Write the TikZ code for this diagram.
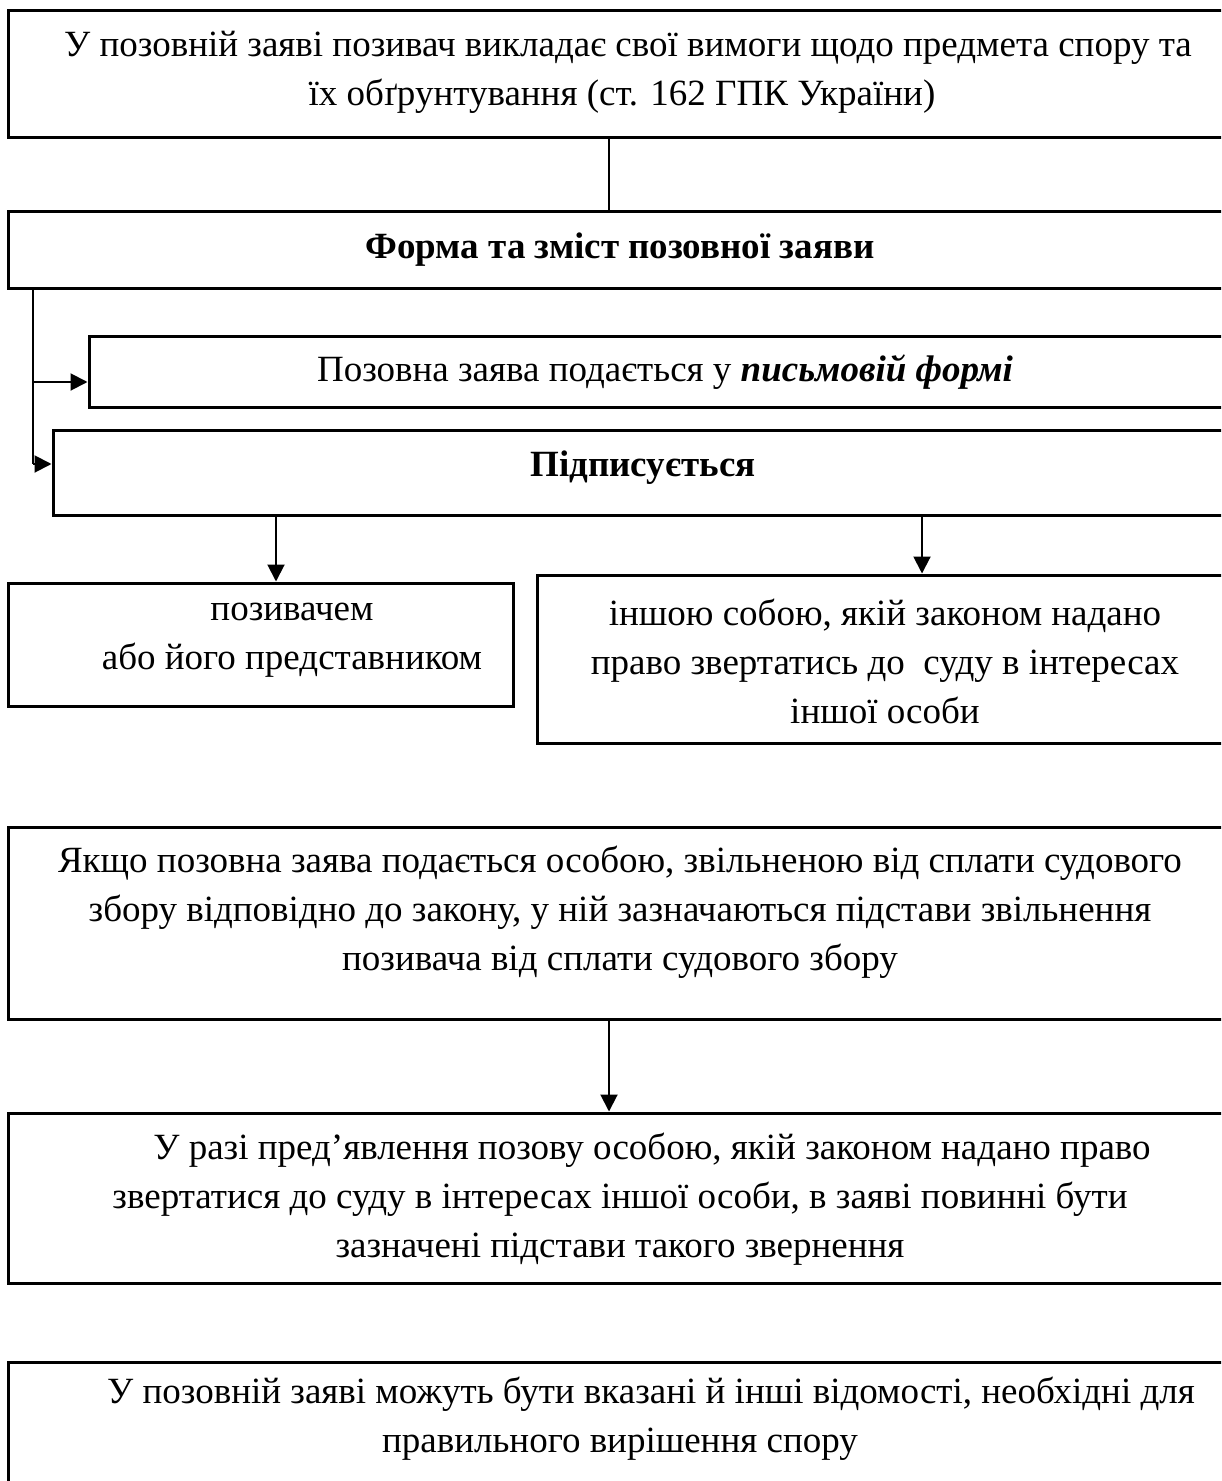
\documentclass[tikz,border=0pt]{standalone}
\usepackage{fontspec}
\setmainfont{Liberation Serif}
\usetikzlibrary{arrows.meta}
\tikzset{
  box/.style={draw, line width=1.5pt, rectangle, inner sep=0pt},
  txt/.style={align=center, inner sep=0pt, font=\fontsize{18.5}{24.5}\selectfont},
  conn/.style={line width=0.9pt},
  arr/.style={line width=1pt, -{Triangle[length=8.5pt,width=8.5pt]}}
}
\begin{document}
\begin{tikzpicture}[x=0.5pt,y=-0.5pt]
\useasboundingbox (0,0) rectangle (1221,1481);
\fill[white] (0,0) rectangle (1221,1481);
\clip (0,0) rectangle (1221,1481);

% boxes
\node[box, minimum width=612.5pt, minimum height=63.5pt] (b1) at (620.5,74.5) {};
\node[box, minimum width=612.5pt, minimum height=38.5pt] (b2) at (620.5,250.5) {};
\node[box, minimum width=576pt, minimum height=35pt] (b3) at (665,372) {};
\node[box, minimum width=590pt, minimum height=42.5pt] (b4) at (643,472.5) {};
\node[box, minimum width=252.5pt, minimum height=61.5pt] (bl) at (260.5,644.5) {};
\node[box, minimum width=348pt, minimum height=84pt] (br) at (885,659) {};
\node[box, minimum width=612.5pt, minimum height=96pt] (b5) at (620.5,923) {};
\node[box, minimum width=612.5pt, minimum height=85pt] (b6) at (620.5,1198) {};
\node[box, minimum width=612.5pt, minimum height=69pt] (b7) at (620.5,1431) {};

% texts
\node[txt] (t1) at (622,72) {\hspace*{6pt}У позовній заяві позивач викладає свої вимоги щодо предмета спору та\\їх обґрунтування (ст. 162 ГПК України)};
\node[txt] (t2) at (620,250) {\textbf{Форма та зміст позовної заяви}};
\node[txt] (t3) at (665,372) {Позовна заява подається у \textbf{\textit{письмовій формі}}};
\node[txt] (t4) at (643,468) {\textbf{Підписується}};
\node[txt] (t5) at (292,640) {позивачем\\або його представником};
\node[txt] (t6) at (885,661) {іншою собою, якій законом надано\\право звертатись до \ суду в інтересах\\іншої особи};
\node[txt] (t7) at (620,912) {Якщо позовна заява подається особою, звільненою від сплати судового\\збору відповідно до закону, у ній зазначаються підстави звільнення\\позивача від сплати судового збору};
\node[txt] (t8) at (620,1199) {\hspace*{32pt}У разі пред’явлення позову особою, якій законом надано право\\звертатися до суду в інтересах іншої особи, в заяві повинні бути\\зазначені підстави такого звернення};
\node[txt] (t9) at (620,1419) {\hspace*{31pt}У позовній заяві можуть бути вказані й інші відомості, необхідні для\\правильного вирішення спору};

% helper coordinates
\coordinate (xm) at (609,0);
\coordinate (xl) at (33,0);
\coordinate (xa) at (276,0);
\coordinate (xb) at (922,0);
\coordinate (ya) at (0,382);
\coordinate (yb) at (0,464);

% connectors
\draw[conn] (b1.south -| xm) -- (b2.north -| xm);
\draw[conn] (b2.south -| xl) -- (xl |- yb);
\draw[arr] (xl |- yb) -- (b4.west |- yb);
\draw[arr] (xl |- ya) -- (b3.west |- ya);
\draw[arr] (b4.south -| xa) -- (bl.north -| xa);
\draw[arr] (b4.south -| xb) -- (br.north -| xb);
\draw[arr] (b5.south -| xm) -- (b6.north -| xm);
\end{tikzpicture}
\end{document}
